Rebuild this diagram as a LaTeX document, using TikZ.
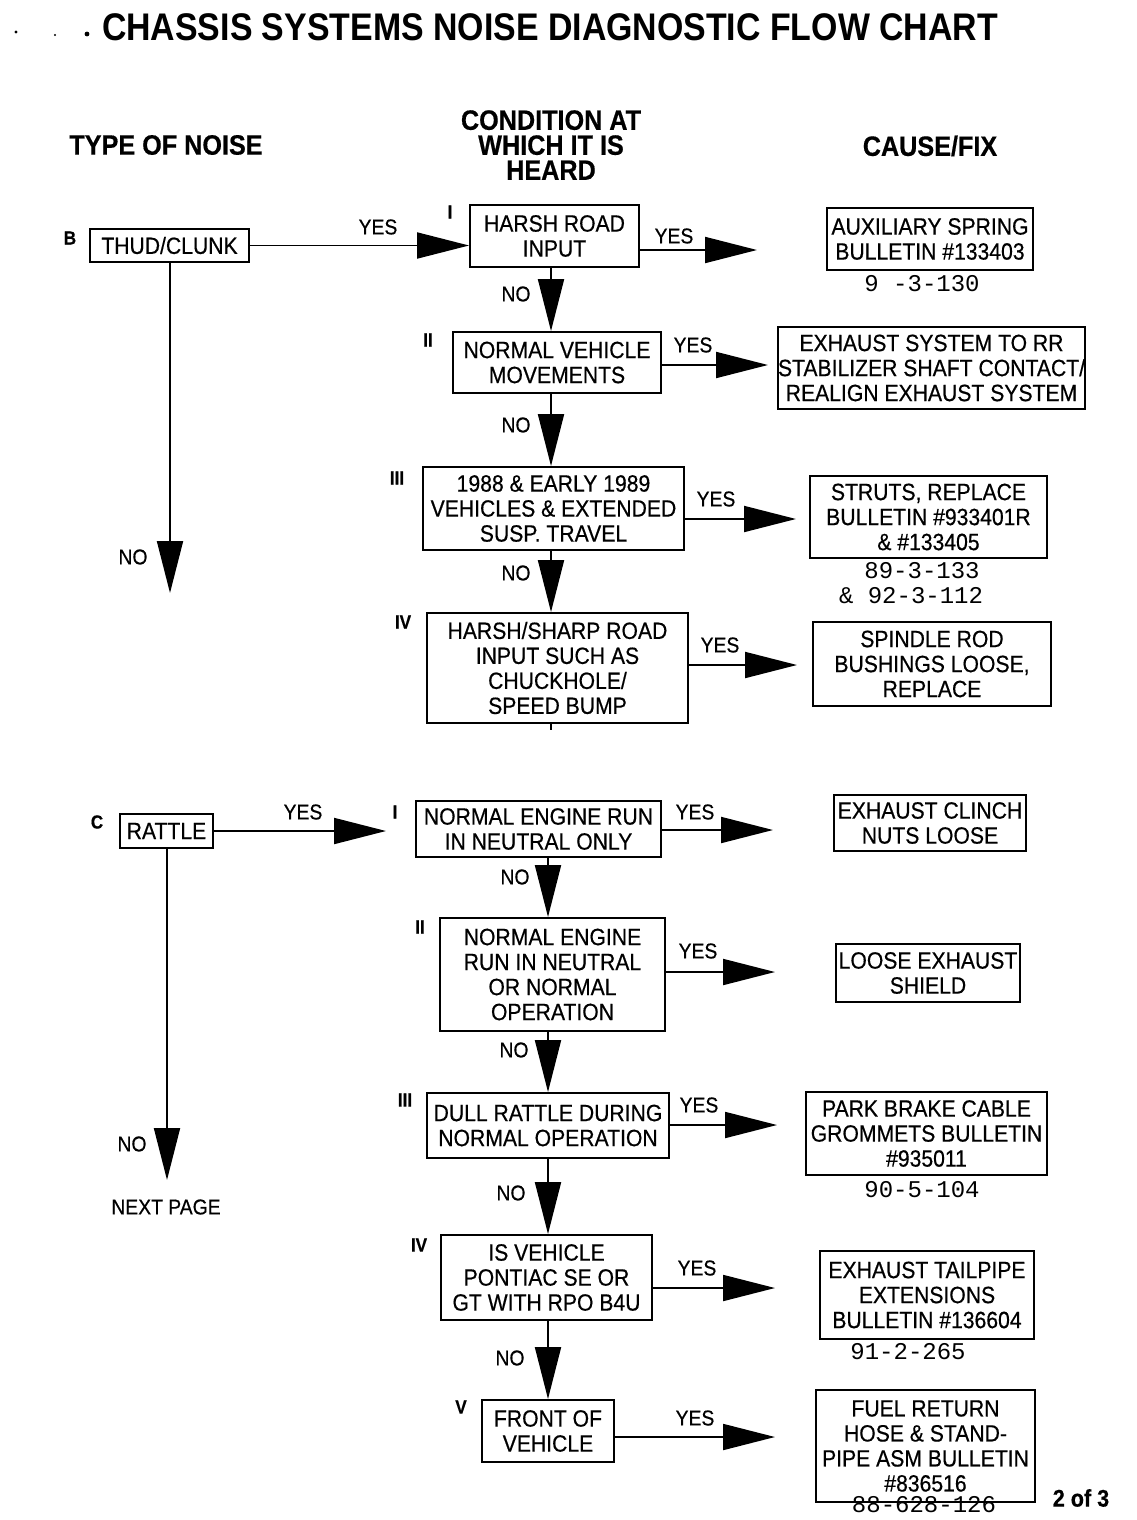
\documentclass[tikz,border=0pt]{standalone}
\usepackage{fontspec}
\newfontfamily\nf[FakeStretch=0.9,FakeBold=0.5]{Liberation Sans}
\newfontfamily\tf[FakeStretch=0.88]{Liberation Sans}
\newfontfamily\mf{Liberation Mono}
\usetikzlibrary{arrows.meta}
\begin{document}
\begin{tikzpicture}[x=1pt,y=-1pt,
 box/.style={draw, line width=1.9pt, inner sep=0pt, align=center, font=\nf\fontsize{23.5}{25}\selectfont},
 lab/.style={font=\nf\fontsize{21.5}{25}\selectfont, inner sep=0pt},
 rom/.style={font=\nf\bfseries\fontsize{19}{22}\selectfont, inner sep=0pt},
 refno/.style={font=\mf\fontsize{24}{25}\selectfont, inner sep=0pt},
 hdr/.style={font=\nf\bfseries\fontsize{28}{25}\selectfont, align=center, inner sep=0pt},
 arr/.style={line width=1.9pt, -{Triangle[length=52pt 0, width=26pt 0]}},
 ln/.style={line width=1.9pt}]
\useasboundingbox (0,0) rectangle (1136,1520);
\fill[white] (0,0) rectangle (1136,1520);

% title
\node[font=\tf\bfseries\fontsize{38.5}{40}\selectfont, inner sep=0pt] (title) at (550,27) {CHASSIS SYSTEMS NOISE DIAGNOSTIC FLOW CHART};
\fill (16,32) circle (1.6pt);
\fill (55,35) circle (1.2pt);
\fill (87,34) circle (2.4pt);

% headers
\node[hdr] (h1) at (166,145) {TYPE OF NOISE};
\node[hdr] (h2) at (551,145) {CONDITION AT\\WHICH IT IS\\HEARD};
\node[hdr] (h3) at (930,146) {CAUSE/FIX};

% ---------- section B ----------
\node[rom] (rB) at (70,238) {B};
\node[box, minimum width=159pt, minimum height=33pt] (thud) at (169.5,245.5) {THUD/CLUNK};

\node[box, minimum width=169pt, minimum height=62pt] (b1) at (554.5,236) {HARSH ROAD\\INPUT};
\node[box, minimum width=208pt, minimum height=61pt] (b2) at (557,362.5) {NORMAL VEHICLE\\MOVEMENTS};
\node[box, minimum width=261pt, minimum height=83pt] (b3) at (553.5,508.5) {1988 \& EARLY 1989\\VEHICLES \& EXTENDED\\SUSP. TRAVEL};
\node[box, minimum width=261pt, minimum height=110pt] (b4) at (557.5,668) {HARSH/SHARP ROAD\\INPUT SUCH AS\\CHUCKHOLE/\\SPEED BUMP};

\node[box, minimum width=206pt, minimum height=62pt] (c1) at (930,239) {AUXILIARY SPRING\\BULLETIN \#133403};
\node[box, minimum width=307pt, minimum height=82pt] (c2) at (931.5,368) {EXHAUST SYSTEM TO RR\\STABILIZER SHAFT CONTACT/\\REALIGN EXHAUST SYSTEM};
\node[box, minimum width=237pt, minimum height=82pt] (c3) at (928.5,517) {STRUTS, REPLACE\\BULLETIN \#933401R\\\& \#133405};
\node[box, minimum width=238pt, minimum height=84pt] (c4) at (932,664) {SPINDLE ROD\\BUSHINGS LOOSE,\\REPLACE};

\node[rom] (rB1) at (450,212) {I};
\node[rom] (rB2) at (428,340) {II};
\node[rom] (rB3) at (397,478) {III};
\node[rom] (rB4) at (403,622) {IV};

\node[refno] (n1) at (922,284) {9 -3-130};
\node[refno] (n2) at (922,571) {89-3-133};
\node[refno] (n3) at (911,596) {\& 92-3-112};

\coordinate (xb) at (551,0);
\coordinate (y1) at (757,250);
\coordinate (y2) at (768,365);
\coordinate (y3) at (796,519);
\coordinate (y4) at (797,665);
\coordinate (nb) at (170,593);

\draw[arr] (thud.east) -- (thud.east -| b1.west);
\draw[arr] (b1.east |- y1) -- (y1);
\draw[arr] (b2.east |- y2) -- (y2);
\draw[arr] (b3.east |- y3) -- (y3);
\draw[arr] (b4.east |- y4) -- (y4);
\draw[arr] (b1.south -| xb) -- (b2.north -| xb);
\draw[arr] (b2.south -| xb) -- (b3.north -| xb);
\draw[arr] (b3.south -| xb) -- (b4.north -| xb);
\draw[ln] (b4.south -| xb) -- ++(0,6);
\draw[arr] (thud.south -| nb) -- (nb);

\node[lab] (yB0) at (378,227) {YES};
\node[lab] (yB1) at (674,236) {YES};
\node[lab] (yB2) at (693,345) {YES};
\node[lab] (yB3) at (716,499) {YES};
\node[lab] (yB4) at (720,645) {YES};
\node[lab] (oB1) at (516,294) {NO};
\node[lab] (oB2) at (516,425) {NO};
\node[lab] (oB3) at (516,573) {NO};
\node[lab] (oB0) at (133,557) {NO};

% ---------- section C ----------
\node[rom] (rC) at (97,822) {C};
\node[box, minimum width=93pt, minimum height=34pt] (rattle) at (166.5,831) {RATTLE};

\node[box, minimum width=245pt, minimum height=56pt] (d1) at (538.5,829) {NORMAL ENGINE RUN\\IN NEUTRAL ONLY};
\node[box, minimum width=225pt, minimum height=113pt] (d2) at (552.5,974.5) {NORMAL ENGINE\\RUN IN NEUTRAL\\OR NORMAL\\OPERATION};
\node[box, minimum width=242pt, minimum height=65pt] (d3) at (548,1125.5) {DULL RATTLE DURING\\NORMAL OPERATION};
\node[box, minimum width=211pt, minimum height=85pt] (d4) at (546.5,1277.5) {IS VEHICLE\\PONTIAC SE OR\\GT WITH RPO B4U};
\node[box, minimum width=132pt, minimum height=62pt] (d5) at (548,1431) {FRONT OF\\VEHICLE};

\node[box, minimum width=192pt, minimum height=56pt] (e1) at (930,823) {EXHAUST CLINCH\\NUTS LOOSE};
\node[box, minimum width=184pt, minimum height=58pt] (e2) at (928,973) {LOOSE EXHAUST\\SHIELD};
\node[box, minimum width=241pt, minimum height=83pt] (e3) at (926.5,1133.5) {PARK BRAKE CABLE\\GROMMETS BULLETIN\\\#935011};
\node[box, minimum width=214pt, minimum height=88pt] (e4) at (927,1295) {EXHAUST TAILPIPE\\EXTENSIONS\\BULLETIN \#136604};
\node[box, minimum width=219pt, minimum height=112pt] (e5) at (925.5,1446) {FUEL RETURN\\HOSE \& STAND-\\PIPE ASM BULLETIN\\\#836516};

\node[rom] (rC1) at (395,812) {I};
\node[rom] (rC2) at (420,927) {II};
\node[rom] (rC3) at (405,1100) {III};
\node[rom] (rC4) at (419,1245) {IV};
\node[rom] (rC5) at (461,1407) {V};

\node[refno] (n4) at (922,1190) {90-5-104};
\node[refno] (n5) at (908,1352) {91-2-265};
\node[refno] (n6) at (924,1505) {88-628-126};

\coordinate (xc) at (548,0);
\coordinate (zr) at (386,831);
\coordinate (z1) at (773,830);
\coordinate (z2) at (775,972);
\coordinate (z3) at (777,1125);
\coordinate (z4) at (775,1288);
\coordinate (z5) at (775,1437);
\coordinate (nc) at (167,1180);

\draw[arr] (rattle.east) -- (zr);
\draw[arr] (d1.east |- z1) -- (z1);
\draw[arr] (d2.east |- z2) -- (z2);
\draw[arr] (d3.east |- z3) -- (z3);
\draw[arr] (d4.east |- z4) -- (z4);
\draw[arr] (d5.east |- z5) -- (z5);
\draw[arr] (d1.south -| xc) -- (d2.north -| xc);
\draw[arr] (d2.south -| xc) -- (d3.north -| xc);
\draw[arr] (d3.south -| xc) -- (d4.north -| xc);
\draw[arr] (d4.south -| xc) -- (d5.north -| xc);
\draw[arr] (rattle.south -| nc) -- (nc);

\node[lab] (yC0) at (303,812) {YES};
\node[lab] (yC1) at (695,812) {YES};
\node[lab] (yC2) at (698,951) {YES};
\node[lab] (yC3) at (699,1105) {YES};
\node[lab] (yC4) at (697,1268) {YES};
\node[lab] (yC5) at (695,1418) {YES};
\node[lab] (oC1) at (515,877) {NO};
\node[lab] (oC2) at (514,1050) {NO};
\node[lab] (oC3) at (511,1193) {NO};
\node[lab] (oC4) at (510,1358) {NO};
\node[lab] (oC0) at (132,1144) {NO};
\node[lab] (next) at (166,1207) {NEXT PAGE};

\node[font=\nf\bfseries\fontsize{24}{25}\selectfont, inner sep=0pt] (page) at (1081,1498) {2 of 3};
\end{tikzpicture}
\end{document}
